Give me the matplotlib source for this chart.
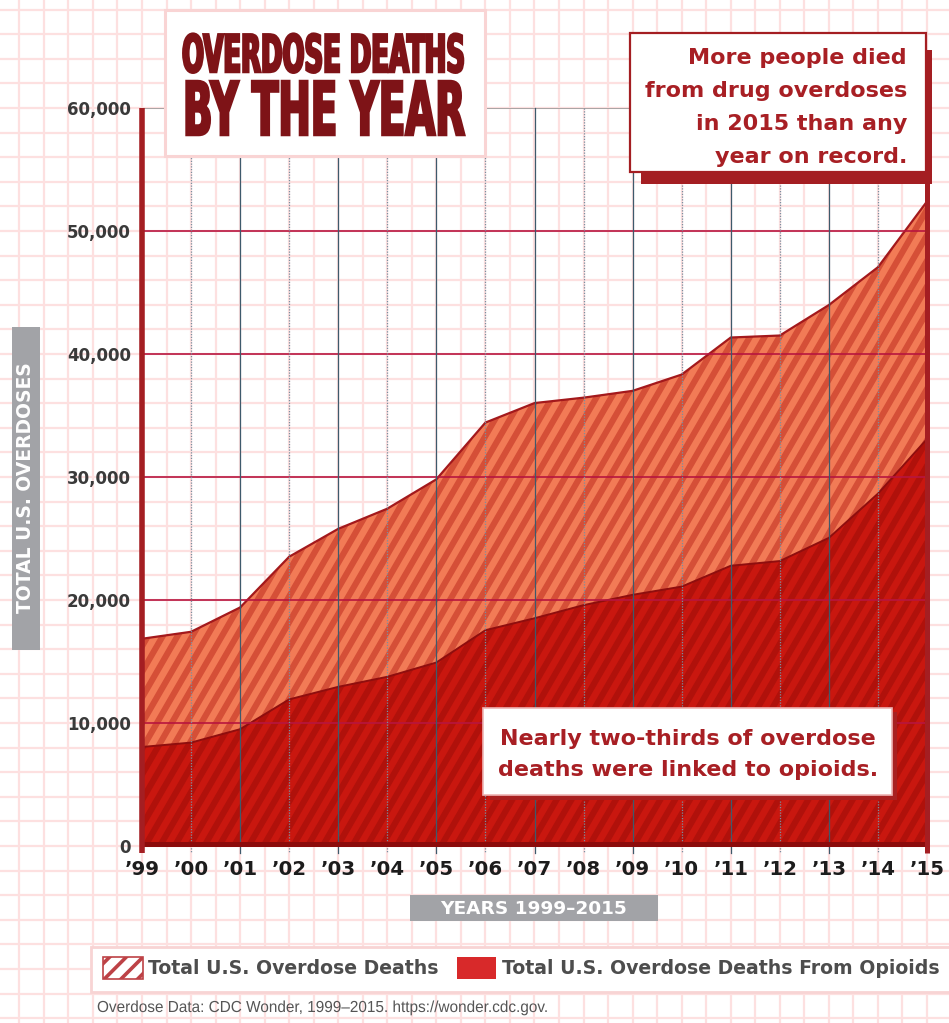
import numpy as np
import matplotlib
matplotlib.use("Agg")
import matplotlib.pyplot as plt
from matplotlib.patches import Rectangle, Patch
from matplotlib.collections import LineCollection
from matplotlib.transforms import Affine2D
from matplotlib.text import Text
from matplotlib import patheffects

# ---------------- data ----------------
years = list(range(1999, 2016))
year_labels = ["\u201999", "\u201900", "\u201901", "\u201902", "\u201903", "\u201904",
               "\u201905", "\u201906", "\u201907", "\u201908", "\u201909", "\u201910",
               "\u201911", "\u201912", "\u201913", "\u201914", "\u201915"]
total_deaths = [16849, 17415, 19394, 23518, 25785, 27424, 29813, 34425, 36010,
                36450, 37004, 38329, 41340, 41502, 43982, 47055, 52404]
opioid_deaths = [8050, 8407, 9496, 11920, 12940, 13756, 14918, 17545, 18516,
                 19582, 20422, 21089, 22784, 23166, 25052, 28647, 33091]
y_ticks = [0, 10000, 20000, 30000, 40000, 50000, 60000]
y_tick_labels = ["0", "10,000", "20,000", "30,000", "40,000", "50,000", "60,000"]
legend_labels = ["Total U.S. Overdose Deaths", "Total U.S. Overdose Deaths From Opioids"]
title_lines = ["OVERDOSE DEATHS", "BY THE YEAR"]
note_top = "More people died\nfrom drug overdoses\nin 2015 than any\nyear on record."
note_bottom = "Nearly two-thirds of overdose\ndeaths were linked to opioids."
footer = "Overdose Data: CDC Wonder, 1999\u20132015. https://wonder.cdc.gov."

W, H = 949, 1023
BOLD = "DejaVu Sans"

DARKRED = "#a41e22"
PINK = "#fde0e0"


class Stretch(patheffects.AbstractPathEffect):
    """Scale glyphs about the baseline origin (tall condensed display type), optional stroke."""
    def __init__(self, sx=1.0, sy=1.0, stroke=0.0):
        super().__init__()
        self.sx, self.sy, self.stroke = sx, sy, stroke

    def draw_path(self, renderer, gc, tpath, affine, rgbFace=None):
        aff = Affine2D().scale(self.sx, self.sy) + affine
        if self.stroke > 0:
            gc0 = renderer.new_gc()
            gc0.copy_properties(gc)
            gc0.set_linewidth(self.stroke)
            gc0.set_foreground(rgbFace)
            gc0.set_joinstyle("miter")
            renderer.draw_path(gc0, tpath, aff, rgbFace)
            gc0.restore()
        else:
            renderer.draw_path(gc, tpath, aff, rgbFace)


class CondensedText(Text):
    """Left-aligned text sized to a target width, then stretched vertically back to its cap height."""
    def __init__(self, *args, target_width=None, stroke=0.0, **kwargs):
        super().__init__(*args, **kwargs)
        self._target_width = target_width
        self._stroke = stroke

    def fit(self, renderer):
        w = self.get_window_extent(renderer).width
        k = self._target_width / w
        self.set_fontsize(self.get_fontsize() * k)
        self.set_path_effects([Stretch(1.0, 1.0 / k, self._stroke)])


fig = plt.figure(figsize=(W / 100, H / 100), dpi=100)
fig.patch.set_facecolor("white")

# ---------- background graph-paper grid (pixel coords) ----------
bg = fig.add_axes([0, 0, 1, 1], zorder=-10)
bg.set_xlim(0, W)
bg.set_ylim(H, 0)
bg.axis("off")
gx = 142 + 24.53 * np.arange(-6, 34)
gy = 108 + 24.6 * np.arange(-5, 40)
bg.vlines(gx, 0, H, color=PINK, lw=1.6, zorder=1)
bg.hlines(gy, 0, W, color=PINK, lw=1.6, zorder=1)
# gray label boxes
bg.add_patch(Rectangle((12, 327), 28, 323, fc="#a2a3a7", ec="none", zorder=3))
bg.add_patch(Rectangle((410, 895), 248, 26, fc="#a2a3a7", ec="none", zorder=3))
# legend box
bg.add_patch(Rectangle((91, 947), 880, 45, fc="white", ec="#f8d4d4", lw=2, zorder=3))
# footer
t_foot = CondensedText(97, 1012, footer, ha="left", va="baseline", fontsize=11.5,
                       family="Liberation Sans", color="#555555", zorder=4,
                       target_width=452)
bg.add_artist(t_foot)

# ---------- main axes ----------
AX_L, AX_R, AX_T, AX_B = 142, 927, 108, 846
ax = fig.add_axes([AX_L / W, 1 - AX_B / H, (AX_R - AX_L) / W, (AX_B - AX_T) / H], zorder=0)
ax.patch.set_alpha(0)
ax.set_xlim(years[0], years[-1])
ax.set_ylim(0, 60000)
for s in ax.spines.values():
    s.set_visible(False)

poly_total = ax.fill_between(years, 0, total_deaths, facecolor="#f27b56", edgecolor="none", zorder=2)
poly_op = ax.fill_between(years, 0, opioid_deaths, facecolor="#c9170f", edgecolor="none", zorder=3)


def add_stripes(poly, color, zorder):
    wpx, hpx = AX_R - AX_L, AX_B - AX_T
    period = 14.8 / wpx
    dx = (hpx / np.tan(np.radians(60))) / wpx
    xs = np.arange(-dx - 2 * period, 1 + 2 * period, period)
    segs = [[(x - 0.05 * dx, -0.05), (x + 1.05 * dx, 1.05)] for x in xs]
    lc = LineCollection(segs, colors=color, linewidths=4.4, transform=ax.transAxes, zorder=zorder)
    lc.set_clip_path(poly.get_paths()[0], ax.transData)
    ax.add_collection(lc)


add_stripes(poly_total, "#d54f37", 2.5)
add_stripes(poly_op, "#b0110b", 3.5)

ax.plot(years, total_deaths, color="#a3191c", lw=1.6, zorder=4, solid_joinstyle="round")
ax.plot(years, opioid_deaths, color="#8f0e0e", lw=1.4, zorder=4, solid_joinstyle="round")

# horizontal value lines
ax.hlines([10000, 20000, 30000, 40000, 50000], years[0], years[-1], color="#b8153f", lw=1.2, zorder=5)
ax.hlines([60000], years[0], years[-1], color="#9a9a9a", lw=1.2, zorder=5)
# vertical year lines (solid on odd years, dotted on even)
for yr in years[1:-1]:
    if yr % 2 == 1:
        ax.plot([yr, yr], [60000, -600], color="#3e5a6c", lw=0.9, zorder=5, clip_on=False)
    else:
        ax.plot([yr, yr], [60000, -600], color="#7a8fa0", lw=0.9, ls=(0, (1, 1.2)), zorder=5, clip_on=False)

# frame
ax.plot([years[0], years[0]], [60000, -550], color=DARKRED, lw=4.0, zorder=7, clip_on=False,
        solid_capstyle="butt")
ax.plot([years[-1], years[-1]], [60000, -550], color=DARKRED, lw=3.6, zorder=7, clip_on=False,
        solid_capstyle="butt")
ax.plot([years[0], years[-1]], [150, 150], color="#8c0b0b", lw=3.6, zorder=6, clip_on=False,
        solid_capstyle="butt")

ax.set_yticks(y_ticks)
ax.set_yticklabels(y_tick_labels, fontsize=12, fontweight="bold", family=BOLD, color="#3a3a3a")
ax.set_xticks(years)
ax.set_xticklabels(year_labels, fontsize=14.2, fontweight="bold", family=BOLD, color="#1c1c1c")
ax.tick_params(axis="y", length=0, pad=8)
ax.tick_params(axis="x", length=0, pad=10)

ax.set_ylabel("TOTAL U.S. OVERDOSES", fontsize=13.5, fontweight="bold", family=BOLD,
              color="white", ha="center", va="center")
ax.yaxis.set_label_coords((26 - AX_L) / (AX_R - AX_L), (AX_B - 488) / (AX_B - AX_T))
ax.set_xlabel("YEARS 1999\u20132015", fontsize=13.3, fontweight="bold", family=BOLD,
              color="white", ha="center", va="center")
ax.xaxis.set_label_coords((534 - AX_L) / (AX_R - AX_L), (AX_B - 908.5) / (AX_B - AX_T))

# ---------- overlay (title + notes) ----------
ov = fig.add_axes([0, 0, 1, 1], zorder=10)
ov.set_xlim(0, W)
ov.set_ylim(H, 0)
ov.axis("off")
ov.patch.set_alpha(0)

ov.add_patch(Rectangle((165, 10), 320, 146, fc="white", ec="#f9d4d4", lw=2.2))
t1 = CondensedText(182, 72, title_lines[0], ha="left", va="baseline", fontsize=37.2,
                   fontweight="bold", family=BOLD, color="#7e1317",
                   target_width=283, stroke=1.8)
t2 = CondensedText(183, 135, title_lines[1], ha="left", va="baseline", fontsize=53.3,
                   fontweight="bold", family=BOLD, color="#7e1317",
                   target_width=282, stroke=1.8)
ov.add_artist(t1)
ov.add_artist(t2)

# top-right note
ov.add_patch(Rectangle((641, 50), 291, 134, fc=DARKRED, ec="none"))
ov.add_patch(Rectangle((630, 33), 296, 139, fc="white", ec=DARKRED, lw=1.6))
ov.text(907, 48.1, note_top, ha="right", va="top", multialignment="right", fontsize=16,
        linespacing=1.81, fontweight="bold", family=BOLD, color="#a81f24")

# lower note
ov.add_patch(Rectangle((490, 712), 407, 88, fc="#a82121", ec="none"))
ov.add_patch(Rectangle((483, 708), 409, 87, fc="white", ec="#eeb4b4", lw=1.2))
ov.text(688, 729.1, note_bottom, ha="center", va="top", multialignment="center", fontsize=16,
        linespacing=1.675, fontweight="bold", family=BOLD, color="#a81f24")

# legend
plt.rcParams["hatch.linewidth"] = 2.6
handles = [Patch(facecolor="white", edgecolor="#bd4246", hatch="//", lw=1.2),
           Patch(facecolor="#d8292a", edgecolor="none")]
fig.legend(handles, legend_labels, ncol=2, loc="center left",
           bbox_to_anchor=(103 / W, 1 - 968 / H), frameon=False,
           prop={"family": BOLD, "weight": "bold", "size": 13.6},
           labelcolor="#4d4d4d", handlelength=2.1, handleheight=1.35,
           handletextpad=0.3, columnspacing=0.95, borderpad=0, borderaxespad=0)

# size the condensed display type to the reference widths
fig.canvas.draw()
r = fig.canvas.get_renderer()
for t in (t1, t2, t_foot):
    t.fit(r)

fig.savefig("out.png", dpi=100, facecolor="white")
